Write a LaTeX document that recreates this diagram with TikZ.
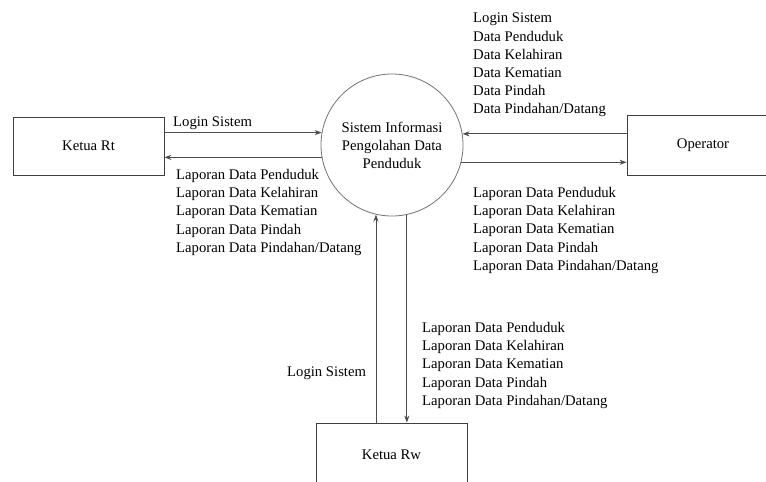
\documentclass[tikz,border=0pt]{standalone}
\usepackage{fontspec}
\setmainfont{Liberation Serif}
\usetikzlibrary{arrows.meta}
\begin{document}
\begin{tikzpicture}[x=1pt,y=-1pt,
  txt/.style={font=\fontsize{14.7}{18.2}\selectfont, inner sep=0pt, anchor=north west, align=left, text=black},
  entity/.style={draw=black!75, line width=0.8pt, rectangle, inner sep=0pt, font=\fontsize{14.7}{18}\selectfont, text=black},
  proc/.style={draw=black!55, line width=0.8pt, circle, minimum size=142pt, inner sep=0pt, align=center, font=\fontsize{14.7}{18}\selectfont, text=black},
  arr/.style={draw=black!70, line width=0.8pt, -{Stealth[length=7pt,width=5pt]}}]
\clip (0,0) rectangle (766,482);
\fill[white] (0,0) rectangle (766,482);
\node[proc] (c) at (392,145) {Sistem Informasi\\Pengolahan Data\\Penduduk};
\node[entity, minimum width=151pt, minimum height=58pt] (rt) at (88.5,146) {Ketua Rt};
\node[entity, minimum width=152pt, minimum height=60pt] (op) at (703,145) {Operator};
\node[entity, minimum width=151pt, minimum height=64pt] (rw) at (391.5,455) {Ketua Rw};
% Ketua Rt
\draw[arr] (rt.east |- c.170.3) -- (c.170.3);
\draw[arr] (c.190.5) -- (rt.east |- c.190.5);
% Operator
\draw[arr] (op.west |- c.9.7) -- (c.9.7);
\draw[arr] (c.-14.7) -- (op.west |- c.-14.7);
% Ketua Rw
\draw[arr] (rw.north -| c.257.8) -- (c.257.8);
\draw[arr] (c.282.2) -- (rw.north -| c.282.2);
% labels
\node[txt] (l1) at (173,117) {Login Sistem};
\node[txt] (l2) at (176,169) {Laporan Data Penduduk\\Laporan Data Kelahiran\\Laporan Data Kematian\\Laporan Data Pindah\\Laporan Data Pindahan/Datang};
\node[txt] (l3) at (473,13) {Login Sistem\\Data Penduduk\\Data Kelahiran\\Data Kematian\\Data Pindah\\Data Pindahan/Datang};
\node[txt] (l4) at (473,187) {Laporan Data Penduduk\\Laporan Data Kelahiran\\Laporan Data Kematian\\Laporan Data Pindah\\Laporan Data Pindahan/Datang};
\node[txt] (l5) at (422,322) {Laporan Data Penduduk\\Laporan Data Kelahiran\\Laporan Data Kematian\\Laporan Data Pindah\\Laporan Data Pindahan/Datang};
\node[txt] (l6) at (287,367) {Login Sistem};
\end{tikzpicture}
\end{document}
